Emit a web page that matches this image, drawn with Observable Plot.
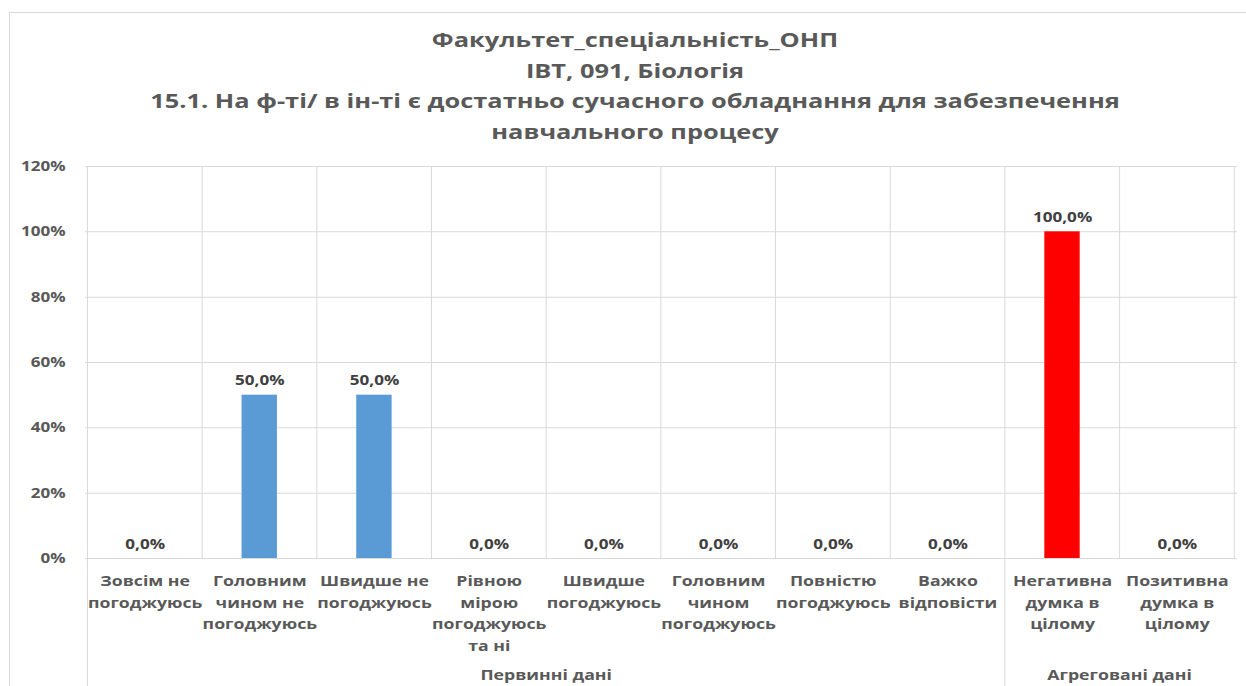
<!DOCTYPE html>
<html><head><meta charset="utf-8">
<script src="https://cdn.jsdelivr.net/npm/d3@7"></script>
<script src="https://cdn.jsdelivr.net/npm/@observablehq/plot@0.6"></script>
<style>
html,body{margin:0;padding:0;background:#fff;width:1246px;height:686px;overflow:hidden;}
#frame{position:absolute;left:9px;top:12px;width:1300px;height:720px;border:1px solid #d9d9d9;}
#title{position:absolute;left:0;width:1270px;top:25px;text-align:center;font-family:"Open Sans",sans-serif;font-weight:700;font-size:20px;line-height:30.5px;color:#595959;white-space:pre;transform:scaleX(1.27);transform-origin:635px 0;}
#chart{position:absolute;left:0;top:0;width:1246px;height:686px;}
</style></head><body>
<div id="frame"></div>
<div id="title"></div>
<div id="chart"></div>
<script>
const titleLines = [
  "Факультет_спеціальність_ОНП",
  "ІВТ, 091, Біологія",
  "15.1. На ф-ті/ в ін-ті є достатньо сучасного обладнання для забезпечення",
  "навчального процесу"
];
const categories = [
  "Зовсім не погоджуюсь",
  "Головним чином не погоджуюсь",
  "Швидше не погоджуюсь",
  "Рівною мірою погоджуюсь та ні",
  "Швидше погоджуюсь",
  "Головним чином погоджуюсь",
  "Повністю погоджуюсь",
  "Важко відповісти",
  "Негативна думка в цілому",
  "Позитивна думка в цілому"
];
const categoryLabels = [
  "Зовсім не\nпогоджуюсь",
  "Головним\nчином не\nпогоджуюсь",
  "Швидше не\nпогоджуюсь",
  "Рівною\nмірою\nпогоджуюсь\nта ні",
  "Швидше\nпогоджуюсь",
  "Головним\nчином\nпогоджуюсь",
  "Повністю\nпогоджуюсь",
  "Важко\nвідповісти",
  "Негативна\nдумка в\nцілому",
  "Позитивна\nдумка в\nцілому"
];
const values = [0, 0.5, 0.5, 0, 0, 0, 0, 0, 1.0, 0];
const groups = ["Первинні дані", "Агреговані дані"];
const groupOf = [0, 0, 0, 0, 0, 0, 0, 0, 1, 1];
const groupColors = ["#5b9bd5", "#ff0000"];
const yTicks = [0, 0.2, 0.4, 0.6, 0.8, 1.0, 1.2];

document.getElementById("title").textContent = titleLines.join("\n");

const stretch = 1.22; // the reference chart is drawn horizontally stretched
const W = 1246, H = 686;
const data = categories.map((c, i) => ({cat: c, label: categoryLabels[i], value: values[i], group: groups[groupOf[i]]}));
const pad = 0.6875;
const locale = d3.formatLocale({decimal: ",", thousands: " ", grouping: [3], currency: ["", ""]});
const valFmt = locale.format(".1%");
const tickFmt = locale.format(".0%");
const gridColor = "#d9d9d9";

function cellLines(index, scales, values, dims) {
  const x = scales.x;
  const step = x(categories[1]) - x(categories[0]);
  const half = step * pad / 2;
  const top = dims.marginTop, bottom = dims.height - dims.marginBottom;
  const g = d3.create("svg:g");
  const bounds = categories.map(c => x(c) - half);
  bounds.push(x(categories[categories.length - 1]) + step - half);
  for (const b of bounds) {
    g.append("line").attr("x1", b).attr("x2", b).attr("y1", top).attr("y2", bottom)
      .attr("stroke", gridColor).attr("stroke-width", 1).attr("vector-effect", "non-scaling-stroke");
  }
  const groupStarts = [];
  groupOf.forEach((gi, i) => { if (i === 0 || groupOf[i - 1] !== gi) groupStarts.push(i); });
  for (const s of groupStarts) {
    const b = bounds[s];
    g.append("line").attr("x1", b).attr("x2", b).attr("y1", bottom).attr("y2", dims.height)
      .attr("stroke", gridColor).attr("stroke-width", 1).attr("vector-effect", "non-scaling-stroke");
  }
  groupStarts.forEach((s, k) => {
    const e = k + 1 < groupStarts.length ? groupStarts[k + 1] : categories.length;
    const cx = (bounds[s] + bounds[e]) / 2;
    g.append("text").attr("x", cx).attr("y", bottom + 122)
      .attr("text-anchor", "middle").attr("font-weight", 700).attr("font-size", 14.5)
      .attr("fill", "#595959").text(groups[groupOf[s]]);
  });
  return g.node();
}

const chart = Plot.plot({
  width: W / stretch,
  height: H,
  marginLeft: 85 / stretch,
  marginRight: 9 / stretch,
  marginTop: 166,
  marginBottom: 128,
  style: {fontFamily: "'Open Sans', sans-serif", fontSize: "14px", background: "transparent"},
  x: {domain: categories, paddingInner: pad, paddingOuter: pad / 2, axis: null},
  y: {domain: [0, 1.2], axis: null},
  color: {domain: groups, range: groupColors},
  marks: [
    Plot.gridY(yTicks, {stroke: gridColor, strokeOpacity: 1}),
    cellLines,
    Plot.axisY(yTicks, {tickFormat: tickFmt, tickSize: 0, tickPadding: 20 / stretch, label: null, fontWeight: 700, fontSize: 14, fill: "#595959"}),
    Plot.barY(data, {x: "cat", y: "value", fill: "group"}),
    Plot.text(data, {x: "cat", y: "value", text: d => valFmt(d.value), lineAnchor: "bottom", dy: -10, fontWeight: 700, fontSize: 14, fill: "#404040"}),
    Plot.text(data, {x: "cat", text: "label", frameAnchor: "bottom", lineAnchor: "top", dy: 12, lineHeight: 1.5, fontWeight: 700, fontSize: 14.5, fill: "#595959"})
  ]
});
chart.setAttribute("width", W);
chart.setAttribute("height", H);
chart.setAttribute("preserveAspectRatio", "none");
chart.style.width = W + "px";
chart.style.height = H + "px";
chart.style.maxWidth = "none";
document.getElementById("chart").appendChild(chart);
</script>
</body></html>
